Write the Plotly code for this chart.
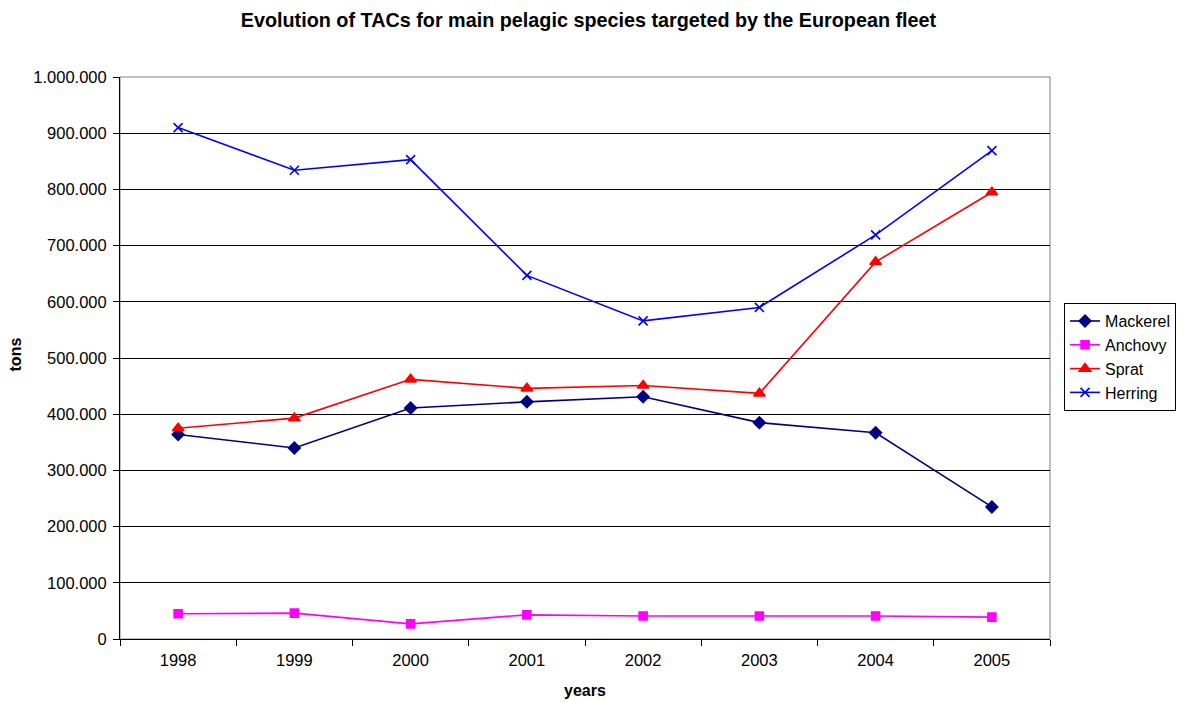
import plotly.graph_objects as go

years = ["1998", "1999", "2000", "2001", "2002", "2003", "2004", "2005"]
mackerel = [364000, 340000, 411000, 422000, 431000, 385000, 367000, 235000]
anchovy = [45000, 46000, 27000, 43000, 41000, 41000, 41000, 39000]
sprat = [375000, 393000, 462000, 446000, 451000, 437000, 671000, 795000]
herring = [910000, 834000, 853000, 647000, 566000, 590000, 719000, 869000]

FONT = "Liberation Sans, Arial, sans-serif"

series = [
    ("Mackerel", mackerel, "#000080", "diamond", 9),
    ("Anchovy", anchovy, "#FF00FF", "square", 8),
    ("Sprat", sprat, "#FF0000", "triangle-up", 10),
    ("Herring", herring, "#0000FF", "x-thin", 9),
]

fig = go.Figure()
for name, vals, color, symbol, size in series:
    fig.add_trace(go.Scatter(
        x=years, y=vals, name=name, mode="lines+markers",
        line=dict(color=color, width=1.6),
        marker=dict(symbol=symbol, size=size, color=color,
                    line=dict(color=color, width=1.6)),
    ))

# grey frame on top/right of the plot area, like the Excel original
fig.add_shape(type="rect", xref="paper", yref="paper", x0=0, x1=1, y0=0, y1=1,
              line=dict(color="#808080", width=1), layer="below")

# axis titles placed by hand so the margins stay fixed
fig.add_annotation(text="<b>tons</b>", xref="paper", yref="paper",
                   x=-0.112, y=0.506, xanchor="center", yanchor="middle",
                   textangle=-90, showarrow=False, font=dict(size=16))
fig.add_annotation(text="<b>years</b>", xref="paper", yref="paper",
                   x=0.5, y=-0.091, xanchor="center", yanchor="middle",
                   showarrow=False, font=dict(size=16))

# page body adds an 8px offset, so the figure is 16px smaller than the window
fig.update_layout(
    width=1176, height=694,
    title=dict(text="<b>Evolution of TACs for main pelagic species targeted by the European fleet</b>",
               x=0.4936, xanchor="center", y=0.983, yanchor="middle",
               font=dict(family=FONT, size=19.8, color="black")),
    font=dict(family=FONT, size=16.5, color="black"),
    separators=",.",
    paper_bgcolor="white",
    plot_bgcolor="white",
    margin=dict(l=112, r=134, t=69, b=63),
    xaxis=dict(
        type="category", range=[-0.5, 7.5], automargin=False,
        tickson="boundaries", ticks="outside", ticklen=6, tickcolor="black",
        ticklabelstandoff=6,
        showline=True, linecolor="black", linewidth=1,
        showgrid=False,
    ),
    yaxis=dict(
        range=[0, 1000000], dtick=100000, tickformat=",d", automargin=False,
        ticks="outside", ticklen=6, tickcolor="black",
        ticklabelstandoff=3,
        showline=True, linecolor="black", linewidth=1,
        showgrid=True, gridcolor="black", gridwidth=1,
        zeroline=False,
    ),
    legend=dict(
        xref="container", yref="container",
        x=0.898, y=0.497, xanchor="left", yanchor="middle",
        bordercolor="black", borderwidth=1, bgcolor="white",
        font=dict(size=16), tracegroupgap=0,
    ),
)

fig.write_html("out.html")
